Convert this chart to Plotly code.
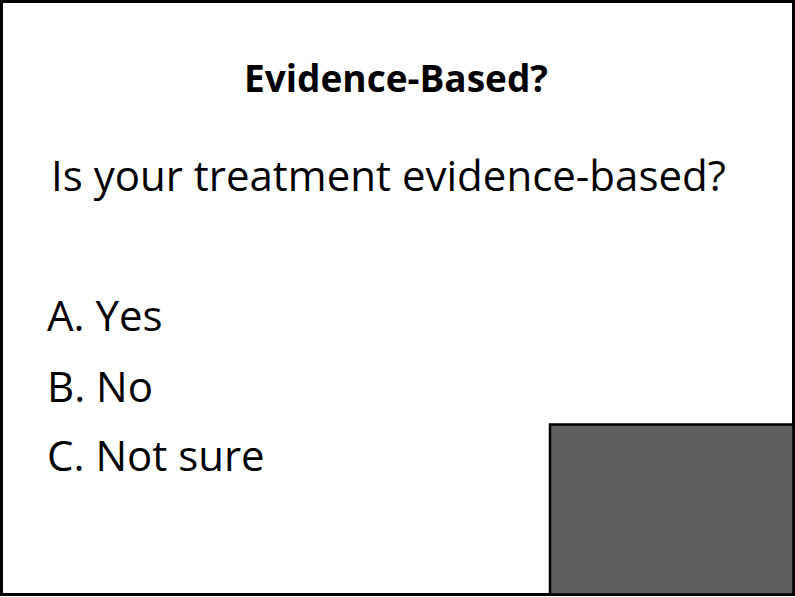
import plotly.graph_objects as go

W, H = 795, 597

title_text = "Evidence-Based?"
question_text = "Is your treatment evidence-based?"
options = ["A. Yes", "B. No", "C. Not sure"]

FONT = "Open Sans, Noto Sans, sans-serif"

fig = go.Figure()

# outer slide frame
fig.add_shape(type="rect", x0=1.5, y0=1.5, x1=793.5, y1=594.5,
              line=dict(color="#000000", width=3), fillcolor="white", layer="below")
# grey placeholder box
fig.add_shape(type="rect", x0=550, y0=424.5, x1=793.5, y1=594.5,
              line=dict(color="#000000", width=2.5), fillcolor="#5f5f5f")

fig.add_annotation(x=396, y=77.5, text="<b>" + title_text + "</b>", showarrow=False,
                   xanchor="center", yanchor="middle",
                   font=dict(family=FONT, size=37, color="#000000"))
fig.add_annotation(x=49, y=174, text=question_text, showarrow=False,
                   xanchor="left", yanchor="middle",
                   font=dict(family=FONT, size=42, color="#000000"))
opt_y = [314, 385.5, 454.5]
for t, y in zip(options, opt_y):
    fig.add_annotation(x=45, y=y, text=t, showarrow=False,
                       xanchor="left", yanchor="middle",
                       font=dict(family=FONT, size=42, color="#000000"))

fig.update_xaxes(range=[0, W], visible=False, fixedrange=True)
fig.update_yaxes(range=[H, 0], visible=False, fixedrange=True)
fig.update_layout(width=W, height=H, margin=dict(l=0, r=0, t=0, b=0),
                  paper_bgcolor="white", plot_bgcolor="white", showlegend=False)

fig.write_html("out.html", config={"displayModeBar": False, "staticPlot": True},
               post_script="document.body.style.margin='0';document.body.style.overflow='hidden';")
